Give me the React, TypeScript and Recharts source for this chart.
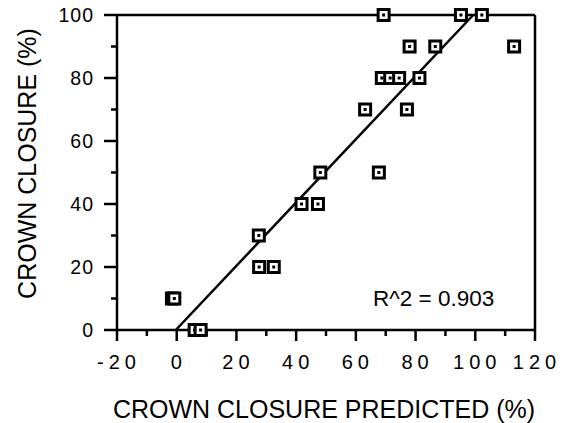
import { ScatterChart, Scatter, XAxis, YAxis, ReferenceLine, Label } from "recharts";

const xTicks = [-20, -10, 0, 10, 20, 30, 40, 50, 60, 70, 80, 90, 100, 110, 120];
const yTicks = [0, 10, 20, 30, 40, 50, 60, 70, 80, 90, 100];

// predicted vs observed crown closure
const predicted = [69.3, 95.2, 102.2, 78, 86.6, 113, 68.7, 71.5, 74.5, 81.3, 63.1, 77.1, 48.1, 67.7, 41.8, 47.3, 27.5, 27.6, 32.5, -1.6, -0.8, 6, 8];
const observed = [100, 100, 100, 90, 90, 90, 80, 80, 80, 80, 70, 70, 50, 50, 40, 40, 30, 20, 20, 10, 10, 0, 0];

const fitX = [-0.3, 99.3];
const fitY = [0, 100];
const rSquaredText = "R^2 = 0.903";

const font = "'Liberation Sans', Arial, Helvetica, sans-serif";

const points = predicted.map((p, i) => ({ x: p, y: observed[i] }));

const Marker = ({ cx, cy }: any) => (
  <g>
    <rect x={cx - 7} y={cy - 7} width={14} height={14} fill="#000" />
    <rect x={cx - 4} y={cy - 4} width={8} height={8} fill="#fff" />
    <rect x={cx - 1.5} y={cy - 1.5} width={3} height={3} fill="#000" />
  </g>
);

const XTick = ({ x, y, payload }: any) => {
  const major = payload.value % 20 === 0;
  return (
    <g>
      <line x1={x} x2={x} y1={y} y2={y + (major ? 11 : 6)} stroke="#000" strokeWidth={2.5} />
      {major && (
        <text x={x + 2} y={y + 39} textAnchor="middle" fontSize={20} letterSpacing={5} fill="#000" fontFamily={font}>
          {payload.value}
        </text>
      )}
    </g>
  );
};

const YTick = ({ x, y, payload }: any) => {
  const major = payload.value % 20 === 0;
  return (
    <g>
      <line x1={x} x2={x - (major ? 13 : 6)} y1={y} y2={y} stroke="#000" strokeWidth={2.5} />
      {major && (
        <text x={x - 23} y={y + 7} textAnchor="end" fontSize={19.5} letterSpacing={1} fill="#000" fontFamily={font}>
          {payload.value}
        </text>
      )}
    </g>
  );
};

const XTitle = ({ viewBox }: any) => (
  <text x={viewBox.x + viewBox.width / 2 - 2} y={viewBox.y + 88} textAnchor="middle" fontSize={25} fill="#000" fontFamily={font}>
    CROWN CLOSURE PREDICTED (%)
  </text>
);

const YTitle = ({ viewBox }: any) => {
  const cx = 27;
  const cy = viewBox.y + viewBox.height / 2 - 9;
  return (
    <text x={cx} y={cy} transform={`rotate(-90 ${cx} ${cy})`} textAnchor="middle" dominantBaseline="central" fontSize={25} fill="#000" fontFamily={font}>
      CROWN CLOSURE (%)
    </text>
  );
};

export default function App() {
  return (
    <div style={{ position: "absolute", left: 0, top: 0, width: 563, height: 423, background: "#fff" }}>
      <ScatterChart width={563} height={423} margin={{ top: 15, right: 28, bottom: 0, left: 0 }}>
        <XAxis
          type="number"
          dataKey="x"
          domain={[-20, 120]}
          ticks={xTicks}
          interval={0}
          height={93}
          tickSize={0}
          tickMargin={0}
          tickLine={false}
          axisLine={{ stroke: "#000", strokeWidth: 2.5 }}
          tick={<XTick />}
        >
          <Label content={<XTitle />} />
        </XAxis>
        <YAxis
          type="number"
          dataKey="y"
          domain={[0, 100]}
          ticks={yTicks}
          interval={0}
          width={117}
          tickSize={0}
          tickMargin={0}
          tickLine={false}
          axisLine={{ stroke: "#000", strokeWidth: 2.5 }}
          tick={<YTick />}
        >
          <Label content={<YTitle />} />
        </YAxis>
        <ReferenceLine y={100} stroke="#000" strokeWidth={2.5} />
        <ReferenceLine x={120} stroke="#000" strokeWidth={2.5} />
        <ReferenceLine
          segment={[{ x: fitX[0], y: fitY[0] }, { x: fitX[1], y: fitY[1] }]}
          stroke="#000"
          strokeWidth={2.5}
        />
        <Scatter data={points} shape={<Marker />} isAnimationActive={false} />
      </ScatterChart>
      <div style={{ position: "absolute", left: 373, top: 286, fontFamily: font, fontSize: 22.5, lineHeight: "26px", color: "#000", whiteSpace: "nowrap" }}>
        {rSquaredText}
      </div>
    </div>
  );
}
